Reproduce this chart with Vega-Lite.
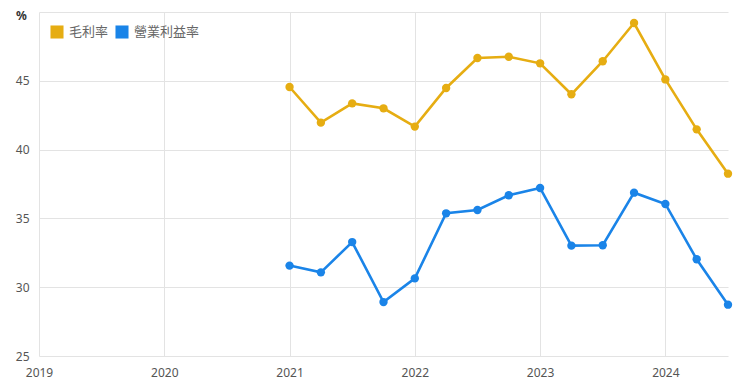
{
  "$schema": "https://vega.github.io/schema/vega-lite/v6.json",
  "width": 689,
  "height": 344,
  "autosize": {"type": "none"},
  "padding": {"left": 39, "top": 12, "right": 12, "bottom": 32},
  "background": "white",
  "config": {
    "font": "Noto Sans, Noto Sans CJK JP, sans-serif",
    "view": {"stroke": null},
    "axis": {"labelColor": "#555555", "labelFontSize": 12, "gridColor": "#e3e3e3", "gridWidth": 1, "domain": false, "ticks": false}
  },
  "data": {
    "values": [
      {"t": 2021.0, "s": "毛利率", "v": 44.55},
      {"t": 2021.25, "s": "毛利率", "v": 41.96},
      {"t": 2021.5, "s": "毛利率", "v": 43.36},
      {"t": 2021.75, "s": "毛利率", "v": 43.0},
      {"t": 2022.0, "s": "毛利率", "v": 41.67},
      {"t": 2022.25, "s": "毛利率", "v": 44.48},
      {"t": 2022.5, "s": "毛利率", "v": 46.66},
      {"t": 2022.75, "s": "毛利率", "v": 46.75},
      {"t": 2023.0, "s": "毛利率", "v": 46.27},
      {"t": 2023.25, "s": "毛利率", "v": 44.02},
      {"t": 2023.5, "s": "毛利率", "v": 46.42},
      {"t": 2023.75, "s": "毛利率", "v": 49.2},
      {"t": 2024.0, "s": "毛利率", "v": 45.1},
      {"t": 2024.25, "s": "毛利率", "v": 41.47},
      {"t": 2024.5, "s": "毛利率", "v": 38.25},
      {"t": 2021.0, "s": "營業利益率", "v": 31.57},
      {"t": 2021.25, "s": "營業利益率", "v": 31.08},
      {"t": 2021.5, "s": "營業利益率", "v": 33.28},
      {"t": 2021.75, "s": "營業利益率", "v": 28.92},
      {"t": 2022.0, "s": "營業利益率", "v": 30.64},
      {"t": 2022.25, "s": "營業利益率", "v": 35.37},
      {"t": 2022.5, "s": "營業利益率", "v": 35.61},
      {"t": 2022.75, "s": "營業利益率", "v": 36.68},
      {"t": 2023.0, "s": "營業利益率", "v": 37.21},
      {"t": 2023.25, "s": "營業利益率", "v": 33.02},
      {"t": 2023.5, "s": "營業利益率", "v": 33.05},
      {"t": 2023.75, "s": "營業利益率", "v": 36.87},
      {"t": 2024.0, "s": "營業利益率", "v": 36.05},
      {"t": 2024.25, "s": "營業利益率", "v": 32.03},
      {"t": 2024.5, "s": "營業利益率", "v": 28.73}
    ]
  },
  "encoding": {
    "x": {
      "field": "t", "type": "quantitative",
      "scale": {"domain": [2019, 2024.5], "nice": false, "zero": false},
      "axis": {"values": [2019, 2020, 2021, 2022, 2023, 2024], "format": "d", "title": null, "labelPadding": 11, "labelFlush": false}
    },
    "y": {
      "field": "v", "type": "quantitative",
      "scale": {"domain": [25, 50], "nice": false, "zero": false},
      "axis": {
        "values": [25, 30, 35, 40, 45, 50],
        "labelExpr": "datum.value == 50 ? '' : datum.label",
        "labelPadding": 10,
        "title": "%", "titleAngle": 0, "titleAlign": "center", "titleBaseline": "middle",
        "titleX": -18, "titleY": 3, "titleFontSize": 12, "titleFontWeight": "bold", "titleColor": "#333333"
      }
    },
    "color": {
      "field": "s", "type": "nominal",
      "scale": {"domain": ["毛利率", "營業利益率"], "range": ["#E6AD12", "#1A84E8"]},
      "legend": {
        "title": null, "orient": "none", "legendX": 11, "legendY": 13, "direction": "horizontal",
        "symbolType": "square", "symbolSize": 170, "symbolStrokeWidth": 0, "symbolOpacity": 1,
        "labelFontSize": 13, "labelColor": "#666666", "columnPadding": 6, "padding": 0, "labelOffset": 5
      }
    }
  },
  "layer": [
    {"mark": {"type": "line", "strokeWidth": 2.6}},
    {"mark": {"type": "point", "filled": true, "size": 70, "opacity": 1}}
  ]
}
